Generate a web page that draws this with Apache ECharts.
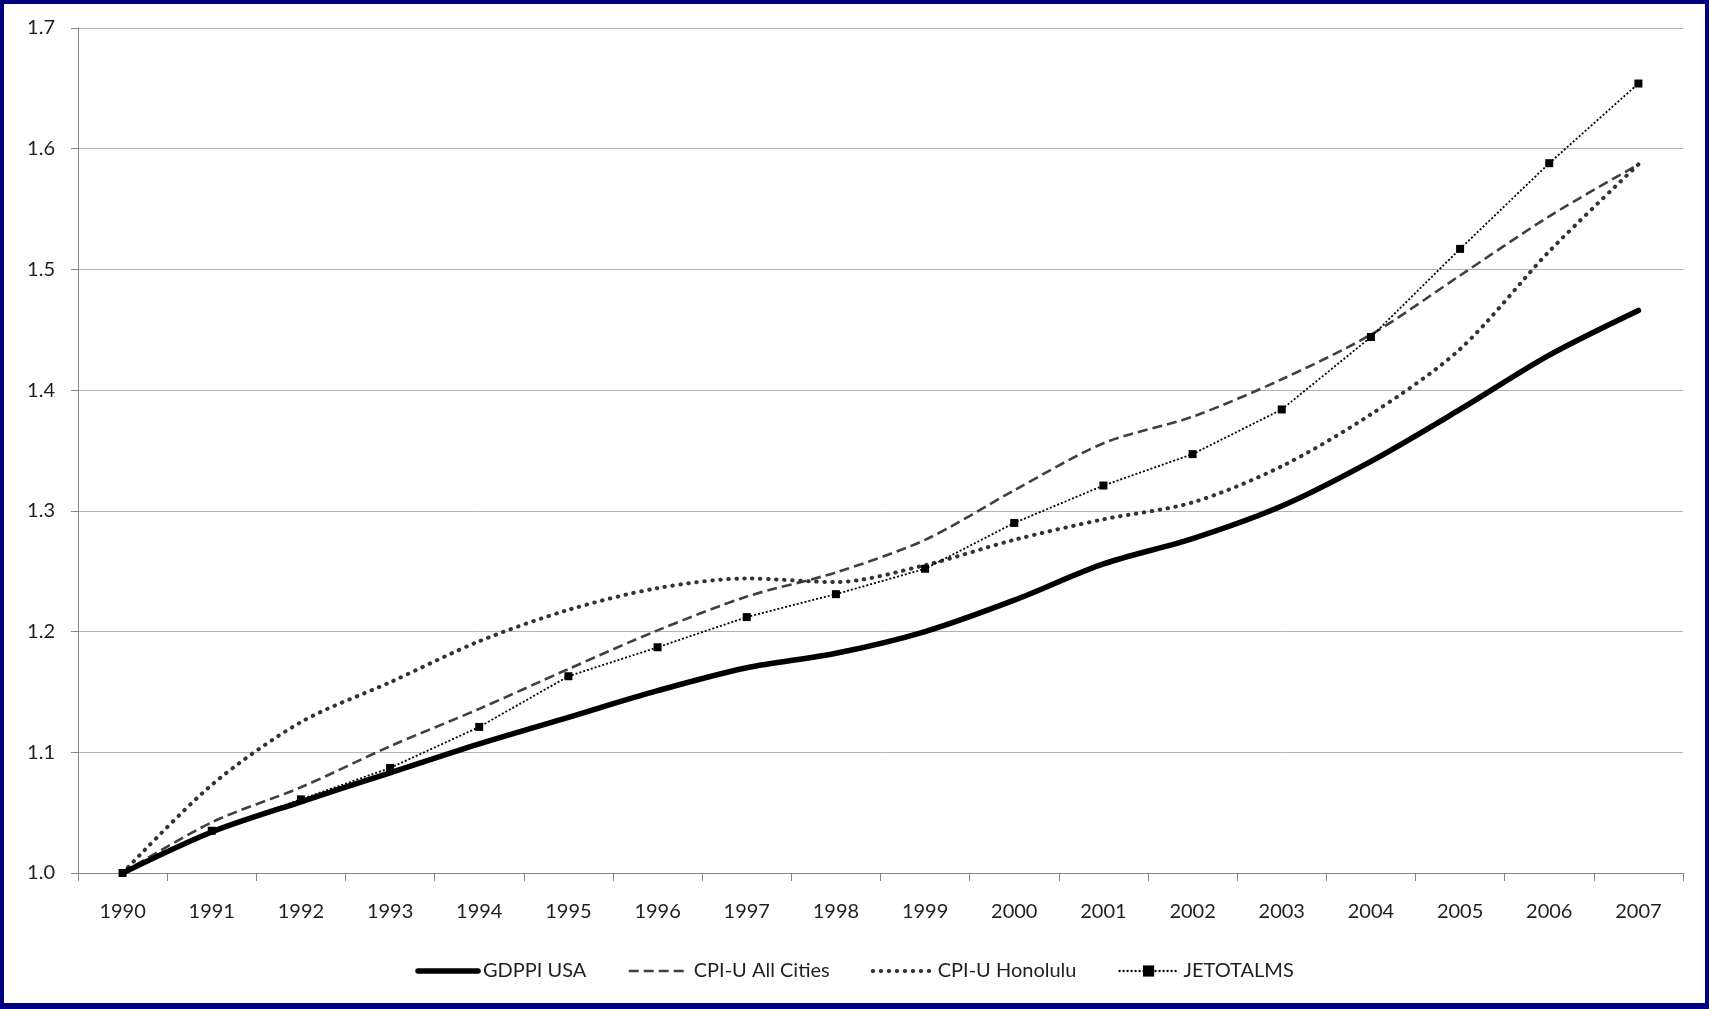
<!DOCTYPE html>
<html>
<head>
<meta charset="utf-8">
<script src="https://cdn.jsdelivr.net/npm/echarts@6/dist/echarts.min.js"></script>
<style>
html,body{margin:0;padding:0;background:#fff;}
#wrap{position:relative;width:1709px;height:1009px;}
#chart{position:absolute;left:0;top:0;width:1709px;height:1009px;}
#frame{position:absolute;left:0;top:0;width:1709px;height:1009px;box-sizing:border-box;
  border-style:solid;border-color:#000080;border-width:4px 4px 6px 4px;pointer-events:none;}
</style>
</head>
<body>
<div id="wrap"><div id="chart"></div><div id="frame"></div></div>
<script>
const years = ['1990','1991','1992','1993','1994','1995','1996','1997','1998','1999','2000','2001','2002','2003','2004','2005','2006','2007'];
const gdppiUSA = [1.000,1.034,1.059,1.083,1.107,1.129,1.151,1.170,1.182,1.200,1.226,1.256,1.277,1.304,1.341,1.384,1.429,1.466];
const cpiAllCities = [1.000,1.042,1.071,1.105,1.136,1.169,1.201,1.229,1.249,1.276,1.317,1.356,1.378,1.409,1.446,1.495,1.544,1.587];
const cpiHonolulu = [1.000,1.073,1.125,1.158,1.192,1.218,1.236,1.244,1.241,1.255,1.276,1.293,1.307,1.337,1.380,1.434,1.515,1.587];
const jetotalms = [1.000,1.035,1.061,1.087,1.121,1.163,1.187,1.212,1.231,1.252,1.290,1.321,1.347,1.384,1.444,1.517,1.588,1.654];
const seriesNames = ['GDPPI USA','CPI-U All Cities','CPI-U Honolulu','JETOTALMS'];

const FONT = 'Lato, "Open Sans", sans-serif';
const TXT = '#1f1f1f';
const styles = [
  {color: '#000000', width: 5.5, type: 'solid', cap: 'round'},
  {color: '#404040', width: 2.6, type: [10, 5], cap: 'butt'},
  {color: '#333333', width: 4, type: [0.5, 7.5], cap: 'round'},
  {color: '#000000', width: 1.8, type: [2, 2], cap: 'butt'}
];
const hidden = {color: 'rgba(0,0,0,0)', borderColor: 'rgba(0,0,0,0)', borderWidth: 0};

const chart = echarts.init(document.getElementById('chart'), null, {renderer:'canvas'});
chart.setOption({
  animation: false,
  backgroundColor: '#ffffff',
  grid: {left: 78, right: 26, top: 28, bottom: 136, containLabel: false},
  legend: {
    bottom: 23,
    left: 'center',
    itemWidth: 60,
    itemHeight: 14,
    itemGap: 41,
    textStyle: {fontFamily: FONT, fontSize: 20, color: TXT},
    data: [
      {name: seriesNames[0], itemStyle: hidden, lineStyle: {width: 5.5, type: 'solid', color: '#000'}},
      {name: seriesNames[1], itemStyle: hidden, lineStyle: {width: 2.6, type: [10, 5], color: '#404040'}},
      {name: seriesNames[2], itemStyle: hidden, lineStyle: {width: 4, type: [0.5, 7.5], cap: 'round', color: '#333333'}},
      {name: seriesNames[3], lineStyle: {width: 2.2, type: [2, 2], color: '#000'}}
    ]
  },
  xAxis: {
    type: 'category',
    data: years,
    boundaryGap: true,
    axisLine: {lineStyle: {color: '#868686', width: 1}},
    axisTick: {show: true, length: 8, lineStyle: {color: '#868686'}},
    axisLabel: {fontFamily: FONT, fontSize: 20, color: TXT, margin: 29},
    splitLine: {show: false}
  },
  yAxis: {
    type: 'value',
    min: 1.0,
    max: 1.7,
    interval: 0.1,
    axisLine: {show: true, lineStyle: {color: '#868686', width: 1}},
    axisTick: {show: true, length: 7, lineStyle: {color: '#868686'}},
    axisLabel: {fontFamily: FONT, fontSize: 20, color: TXT, margin: 23,
      formatter: v => v.toFixed(1)},
    splitLine: {show: true, lineStyle: {color: '#b3b3b3', width: 1}}
  },
  series: [
    {
      name: seriesNames[0], type: 'line', data: gdppiUSA, smooth: 0.3,
      symbol: 'none', z: 5,
      itemStyle: {color: styles[0].color},
      lineStyle: styles[0]
    },
    {
      name: seriesNames[1], type: 'line', data: cpiAllCities, smooth: 0.3,
      symbol: 'none', z: 3,
      itemStyle: {color: styles[1].color},
      lineStyle: styles[1]
    },
    {
      name: seriesNames[2], type: 'line', data: cpiHonolulu, smooth: 0.3,
      symbol: 'none', z: 4,
      itemStyle: {color: styles[2].color},
      lineStyle: styles[2]
    },
    {
      name: seriesNames[3], type: 'line', data: jetotalms, smooth: false,
      symbol: 'rect', symbolSize: 8, z: 6,
      itemStyle: {color: '#000000'},
      lineStyle: styles[3]
    }
  ]
});
</script>
</body>
</html>
